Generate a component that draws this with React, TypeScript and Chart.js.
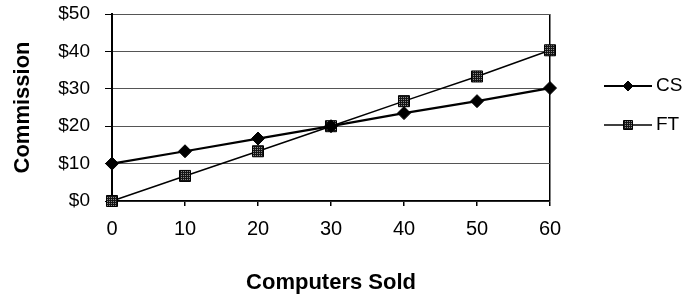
import React, { useEffect, useRef } from "react";
import { Chart, registerables } from "chart.js";

Chart.register(...registerables);

const computersSold = [0, 10, 20, 30, 40, 50, 60];
const csCommission = [10, 13.3, 16.7, 20, 23.5, 26.7, 30.2];
const ftCommission = [0, 6.7, 13.3, 20, 26.7, 33.3, 40.3];
const seriesLabels = ["CS", "FT"];
const yTickValues = [0, 10, 20, 30, 40, 50];
const xTickValues = [0, 10, 20, 30, 40, 50, 60];
const xAxisTitle = "Computers Sold";
const yAxisTitle = "Commission";

const FONT = "'Liberation Sans', Arial, Helvetica, sans-serif";

function makePattern(): CanvasPattern | string {
  const c = document.createElement("canvas");
  c.width = 4;
  c.height = 4;
  const g = c.getContext("2d");
  if (!g) return "#222";
  g.fillStyle = "#151515";
  g.fillRect(0, 0, 4, 4);
  g.fillStyle = "#8a8a8a";
  g.fillRect(1, 1, 1, 1);
  g.fillRect(3, 3, 1, 1);
  g.fillRect(3, 1, 1, 1);
  g.fillRect(1, 3, 1, 1);
  return g.createPattern(c, "repeat") || "#222";
}

const sideLegend = {
  id: "sideLegend",
  afterDraw(chart: any) {
    const { ctx, chartArea } = chart;
    chart.data.datasets.forEach((ds: any, i: number) => {
      const y = chartArea.top + 72 + i * 39;
      const x0 = chartArea.right + 54;
      const x1 = x0 + 48;
      const xm = (x0 + x1) / 2;
      ctx.save();
      ctx.strokeStyle = ds.borderColor;
      ctx.lineWidth = ds.borderWidth;
      ctx.beginPath();
      ctx.moveTo(x0, y);
      ctx.lineTo(x1, y);
      ctx.stroke();
      ctx.fillStyle = ds.pointBackgroundColor;
      ctx.strokeStyle = ds.pointBorderColor;
      ctx.lineWidth = 1;
      ctx.beginPath();
      if (ds.pointStyle === "rectRot") {
        const r = 5;
        ctx.moveTo(xm - r, y);
        ctx.lineTo(xm, y - r);
        ctx.lineTo(xm + r, y);
        ctx.lineTo(xm, y + r);
        ctx.closePath();
      } else {
        const s = 4.5;
        ctx.rect(xm - s, y - s, 2 * s, 2 * s);
      }
      ctx.fill();
      ctx.stroke();
      ctx.fillStyle = "#000";
      ctx.font = `19px ${FONT}`;
      ctx.textAlign = "left";
      ctx.textBaseline = "middle";
      ctx.fillText(ds.label, x1 + 4, y);
      ctx.restore();
    });
  },
};

export default function App() {
  const ref = useRef<HTMLCanvasElement | null>(null);

  useEffect(() => {
    if (!ref.current) return;
    const pattern = makePattern();
    const chart = new Chart(ref.current, {
      type: "line",
      data: {
        datasets: [
          {
            label: seriesLabels[0],
            data: computersSold.map((x, i) => ({ x, y: csCommission[i] })),
            borderColor: "#000",
            borderWidth: 2.2,
            pointStyle: "rectRot",
            pointRadius: 6.5,
            pointBackgroundColor: "#000",
            pointBorderColor: "#000",
            pointBorderWidth: 1,
            tension: 0,
            clip: false as any,
          },
          {
            label: seriesLabels[1],
            data: computersSold.map((x, i) => ({ x, y: ftCommission[i] })),
            borderColor: "#000",
            borderWidth: 1.5,
            pointStyle: "rect",
            pointRadius: 7.8,
            pointBackgroundColor: pattern as any,
            pointBorderColor: "#000",
            pointBorderWidth: 1,
            tension: 0,
            clip: false as any,
          },
        ],
      },
      options: {
        responsive: false,
        animation: false,
        layout: { padding: { top: 14, right: 138, left: 0, bottom: 0 } },
        plugins: {
          legend: { display: false },
          tooltip: { enabled: false },
        },
        scales: {
          x: {
            type: "linear",
            min: 0,
            max: 60,
            afterBuildTicks: (s: any) => {
              s.ticks = xTickValues.map((v) => ({ value: v }));
            },
            afterFit: (s: any) => {
              s.height = 95;
            },
            grid: {
              drawOnChartArea: true,
              color: (c: any) =>
                c.tick && c.tick.value === 60 ? "#000" : "rgba(0,0,0,0)",
              lineWidth: 1.5,
              tickColor: "#000",
              tickLength: 5,
            },
            border: { color: "#000", width: 1.5 },
            ticks: {
              color: "#000",
              font: { family: FONT, size: 20 },
              padding: 11,
              maxRotation: 0,
            },
            title: {
              display: true,
              text: xAxisTitle,
              color: "#000",
              font: { family: FONT, size: 22, weight: "bold" },
              padding: { top: 0, bottom: 0 },
            },
          },
          y: {
            type: "linear",
            min: 0,
            max: 50,
            afterBuildTicks: (s: any) => {
              s.ticks = yTickValues.map((v) => ({ value: v }));
            },
            afterFit: (s: any) => {
              s.width = 112;
              s.paddingTop = 0;
              s.paddingBottom = 0;
            },
            grid: {
              color: "#555",
              lineWidth: 1,
              tickColor: "#000",
              tickLength: 7,
            },
            border: { color: "#000", width: 2 },
            ticks: {
              color: "#000",
              font: { family: FONT, size: 19 },
              padding: 15,
              callback: (v: any) => "$" + v,
            },
            title: {
              display: true,
              text: yAxisTitle,
              color: "#000",
              font: { family: FONT, size: 22, weight: "bold" },
              padding: { top: 10, bottom: 0 },
            },
          },
        },
      },
      plugins: [sideLegend],
    });
    return () => chart.destroy();
  }, []);

  return (
    <div style={{ position: "fixed", left: 0, top: 0, width: 688, height: 296, background: "#fff" }}>
      <canvas ref={ref} width={688} height={296} />
    </div>
  );
}
